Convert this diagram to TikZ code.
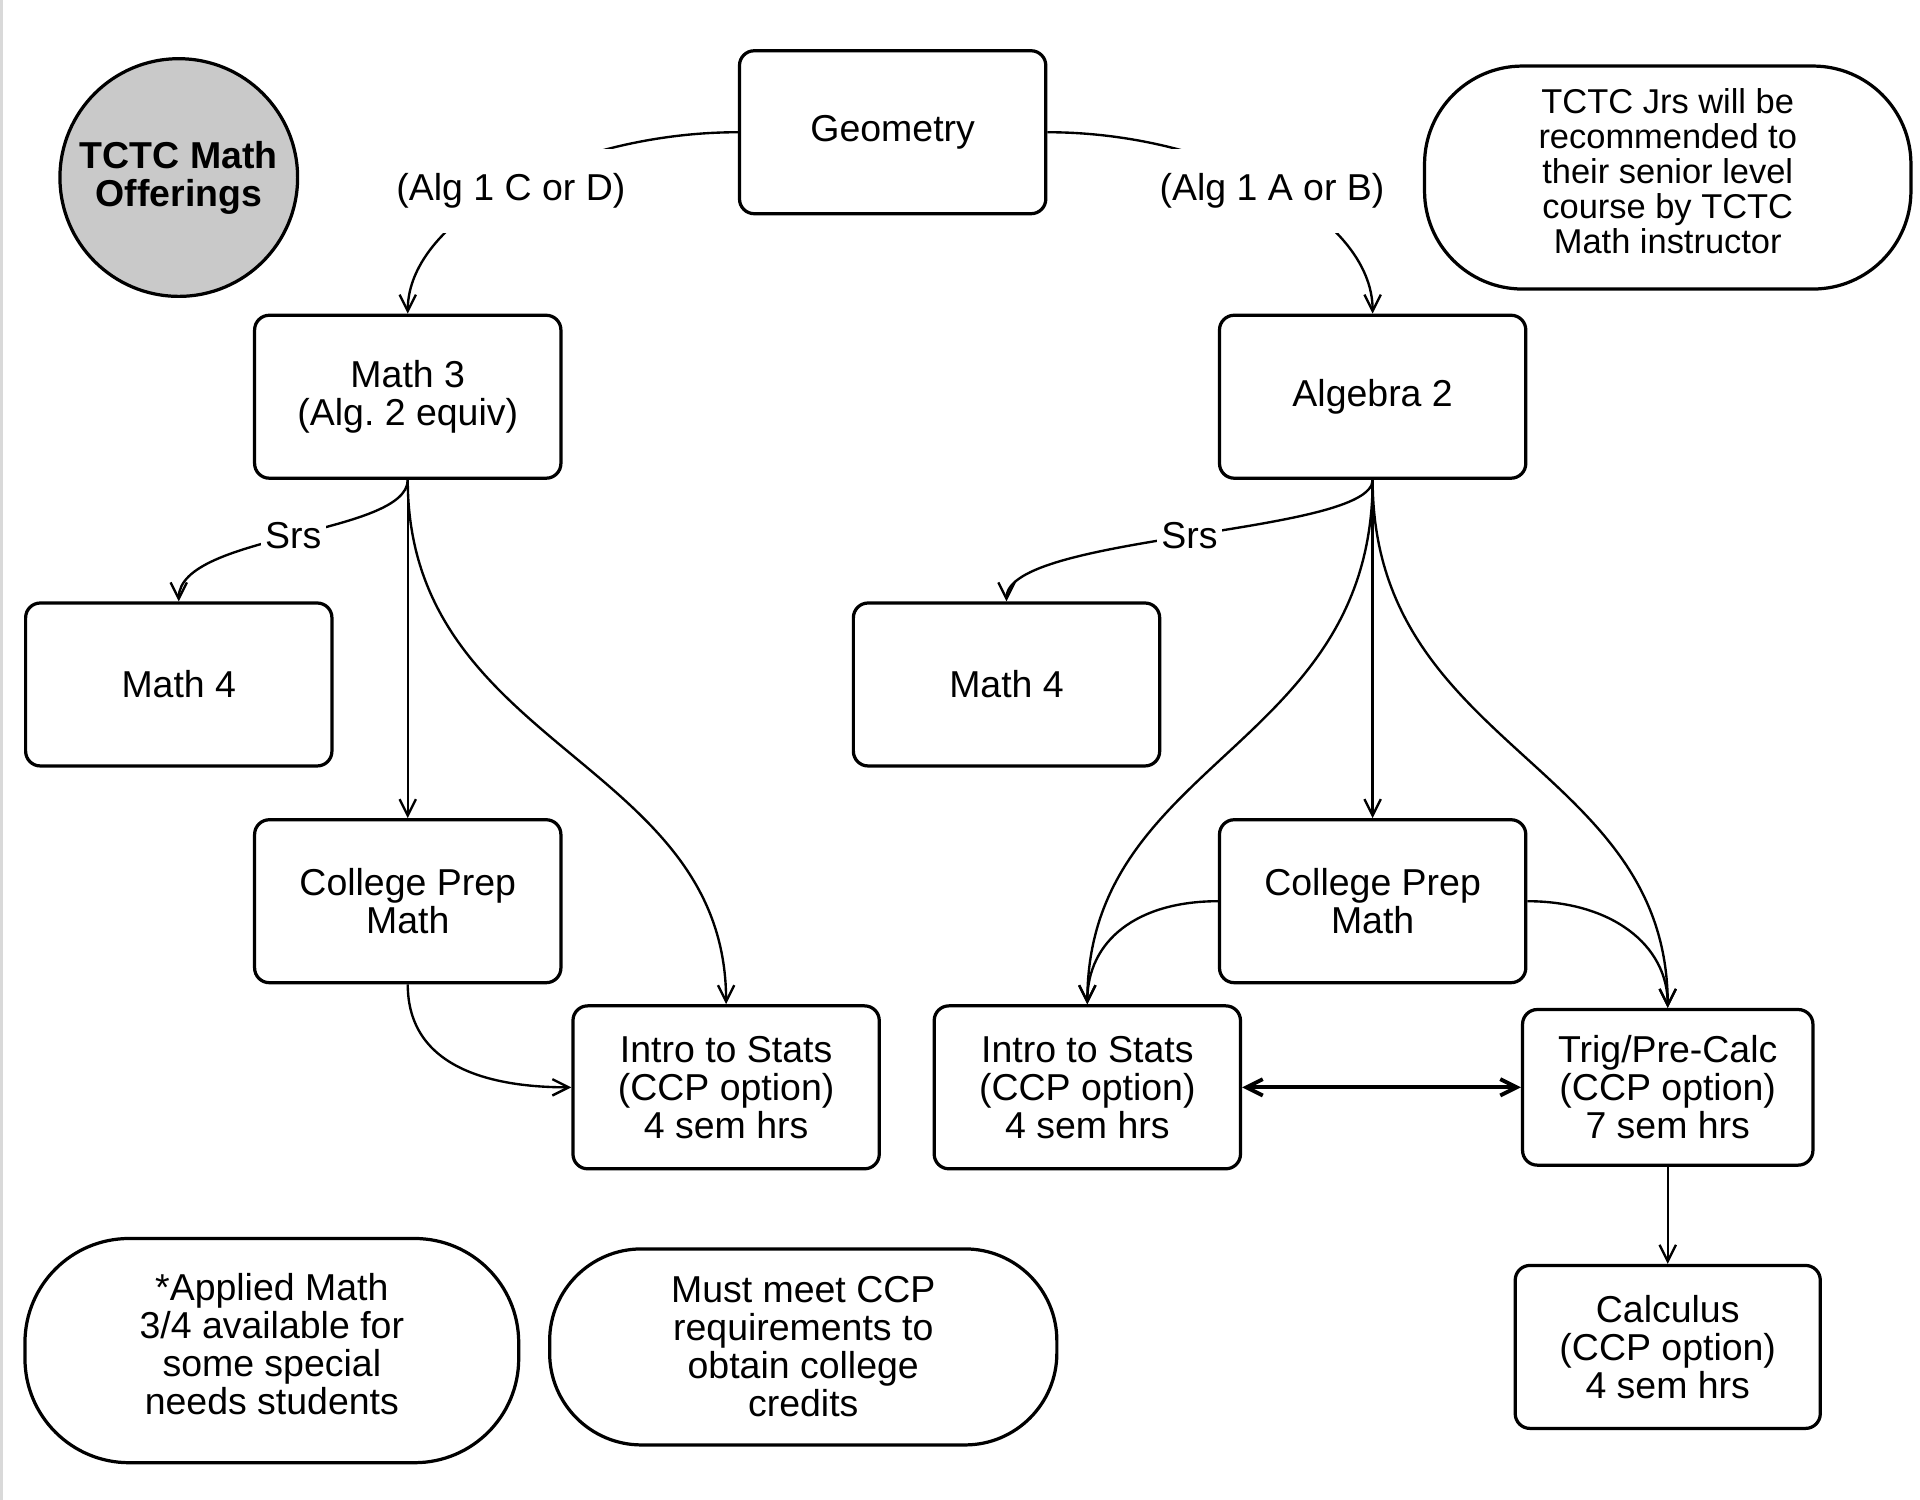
\documentclass[tikz,border=0pt]{standalone}
\usepackage{tikz}
\usepackage{fontspec}
\setmainfont{Liberation Sans}
\usetikzlibrary{shapes,arrows.meta}

\begin{document}
\begin{tikzpicture}[x=0.01cm, y=-0.01cm, inner sep=2pt, >={Straight Barb[length=3.8pt,width=3.8pt]}]% 1 unit = 1px of the sketch, y down
\useasboundingbox (0,0) rectangle (1568,1225);
\tikzstyle{every node}=[font={\fontsize{8.7pt}{8.8pt}\selectfont}, align=center]
\tikzstyle{course}=[draw, line width=0.75pt, rounded corners=0.12cm, minimum width=2.5cm, minimum height=1.33cm]
\tikzstyle{note}=[draw, line width=0.75pt, rounded corners=0.8cm]
\tikzstyle{link}=[->, line width=0.55pt]
\tikzstyle{choice}=[fill=white, inner xsep=1pt, inner ysep=0.2cm, yshift=-0.04cm]
\tikzstyle{srs}=[fill=white, inner sep=1pt]

\draw[gray!30, line width=0.6pt] (1,0) -- (1,1225);

\node[circle, draw, line width=0.75pt, fill=gray!42, minimum size=1.94cm, font={\bfseries\fontsize{8.7pt}{8.8pt}\selectfont}] (offer) at (146,145) {TCTC Math\\Offerings};

\node[course] (geo) at (729,108) {Geometry};
\node[course] (m3) at (333,324) {Math 3\\(Alg.\ 2 equiv)};
\node[course] (alg2) at (1121,324) {Algebra 2};
\node[course] (m4a) at (146,559) {Math 4};
\node[course] (m4b) at (822,559) {Math 4};
\node[course] (cpa) at (333,736) {College Prep\\Math};
\node[course] (cpb) at (1121,736) {College Prep\\Math};
\node[course] (statsa) at (593,888) {Intro to Stats\\(CCP option)\\4 sem hrs};
\node[course] (statsb) at (888,888) {Intro to Stats\\(CCP option)\\4 sem hrs};
\node[course, minimum width=2.37cm, minimum height=1.27cm] (trig) at (1362,888) {Trig/Pre-Calc\\(CCP option)\\7 sem hrs};
\node[course, minimum width=2.49cm] (calc) at (1362,1100) {Calculus\\(CCP option)\\4 sem hrs};

\node[note, minimum width=3.97cm, minimum height=1.82cm, font={\fontsize{8pt}{8.1pt}\selectfont}] (jrs) at (1362,145) {TCTC Jrs will be\\recommended to\\their senior level\\course by TCTC\\Math instructor\vspace{3pt}};
\node[note, minimum width=4.03cm, minimum height=1.83cm, rounded corners=0.85cm] (applied) at (222,1103) {*Applied Math\\3/4 available for\\some special\\needs students\vspace{3pt}};
\node[note, minimum width=4.14cm, minimum height=1.6cm, rounded corners=0.75cm] (ccp) at (656,1100) {Must meet CCP\\requirements to\\obtain college\\credits};

% left branch
\draw[link] (geo.west) .. controls +(-135,0) and +(0,-80) .. node[choice] {(Alg 1 C or D)} (m3.north);
\draw[link] (m3.south) .. controls +(0,45) and +(0,-55) .. node[srs] {Srs} (m4a.north);
\draw[link] (m3.south) -- (cpa.north);
\draw[link] (m3.south) .. controls +(0,220) and +(0,-200) .. (statsa.north);
\draw[link] (cpa.south) .. controls +(0,67) and +(-68,0) .. (statsa.west);

% right branch
\draw[link] (geo.east) .. controls +(135,0) and +(0,-80) .. node[choice] {(Alg 1 A or B)} (alg2.north);
\draw[link] (alg2.south) .. controls +(0,45) and +(0,-55) .. node[srs] {Srs} (m4b.north);
\draw[link] (alg2.south) -- (cpb.north);
\draw[link] (alg2.south) .. controls +(0,220) and +(0,-200) .. (statsb.north);
\draw[link] (alg2.south) .. controls +(0,220) and +(0,-200) .. (trig.north);
\draw[link] (cpb.west) .. controls +(-66,0) and +(0,-52) .. (statsb.north);
\draw[link] (cpb.east) .. controls +(68,0) and +(0,-52) .. (trig.north);
\draw[<->, line width=0.9pt] (statsb.east) -- (trig.west);
\draw[link] (trig.south) -- (calc.north);
%\draw[link] (calc.north) -- (trig.south);

\end{tikzpicture}
\end{document}
